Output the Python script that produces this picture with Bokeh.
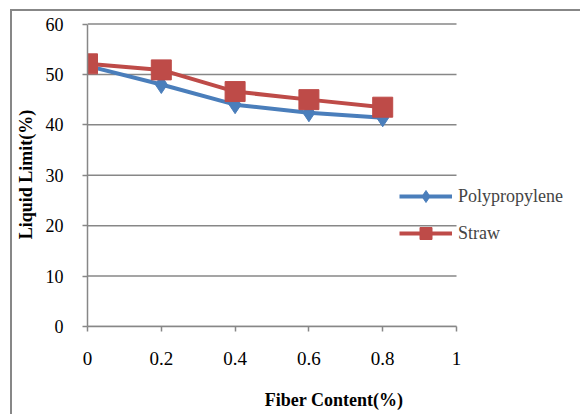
from bokeh.plotting import figure
from bokeh.models import Legend, LegendItem, FixedTicker, Range1d, InlineStyleSheet
from bokeh.embed import file_html
from bokeh.resources import INLINE

fiber = [0, 0.2, 0.4, 0.6, 0.8]
polypropylene = [51.7, 48.0, 44.0, 42.4, 41.4]
straw = [52.1, 50.9, 46.6, 45.0, 43.5]
x_ticks = [0, 0.2, 0.4, 0.6, 0.8, 1]
y_ticks = [0, 10, 20, 30, 40, 50, 60]

BLUE = "#4A7EBB"
RED = "#BE4B48"
GRAY = "#878787"
FONT = "Liberation Serif"

css = """
:host { position: relative; overflow: hidden; }
:host::after { content: ''; position: absolute; left: 10px; top: 9px; width: 900px; height: 900px;
  border: 2px solid #878787; pointer-events: none; z-index: 10; }
"""

p = figure(width=580, height=414, output_backend="svg", toolbar_location=None,
           x_range=Range1d(0, 1.336), y_range=Range1d(0, 60.3),
           min_border_left=87, min_border_right=0, min_border_top=22, min_border_bottom=88,
           stylesheets=[InlineStyleSheet(css=css)])
p.outline_line_color = None
p.background_fill_color = "white"
p.border_fill_color = "white"
p.xgrid.grid_line_color = None
p.ygrid.grid_line_color = None

p.xaxis.ticker = FixedTicker(ticks=x_ticks)
p.yaxis.ticker = FixedTicker(ticks=y_ticks)
p.xaxis.bounds = (0, 1)
p.yaxis.bounds = (0, 60)
p.xaxis.major_label_overrides = {0: "0", 1: "1"}
for ax in (p.xaxis[0], p.yaxis[0]):
    ax.axis_line_color = GRAY
    ax.axis_line_width = 1.5
    ax.major_tick_line_color = GRAY
    ax.major_tick_line_width = 1.5
    ax.major_tick_in = 0
    ax.major_tick_out = 5
    ax.minor_tick_line_color = None
    ax.major_label_text_font = FONT
    ax.major_label_text_color = "black"
    ax.axis_label_text_font = FONT
    ax.axis_label_text_font_size = "18px"
    ax.axis_label_text_font_style = "bold"
    ax.axis_label_text_color = "black"
p.xaxis.major_label_text_font_size = "19px"
p.yaxis.major_label_text_font_size = "18px"
p.xaxis.major_label_standoff = 20
p.yaxis.major_label_standoff = 19
p.xaxis.axis_label = "Fiber Content(%)"
p.yaxis.axis_label = "Liquid Limit(%)"
p.xaxis.axis_label_standoff = 22
p.yaxis.axis_label_standoff = 7

# horizontal gridlines limited to the x axis extent
p.segment(x0=[x_ticks[0]] * len(y_ticks), x1=[x_ticks[-1]] * len(y_ticks),
          y0=y_ticks, y1=y_ticks, line_color=GRAY, line_width=1.5)

r1 = p.line(fiber, polypropylene, line_color=BLUE, line_width=4)
s1 = p.scatter(fiber, polypropylene, marker="diamond", size=18, color=BLUE)
r2 = p.line(fiber, straw, line_color=RED, line_width=4)
s2 = p.scatter(fiber, straw, marker="square", size=20, color=RED)

legend = Legend(items=[LegendItem(label="Polypropylene", renderers=[r1, s1]),
                       LegendItem(label="Straw", renderers=[r2, s2])],
                location=(312, 78), margin=0, padding=0, spacing=7,
                glyph_width=53, glyph_height=30, label_standoff=6,
                label_text_font=FONT, label_text_font_size="18px",
                border_line_color=None, background_fill_alpha=0)
p.add_layout(legend, "center")

open("out.html", "w").write(file_html(p, INLINE))
